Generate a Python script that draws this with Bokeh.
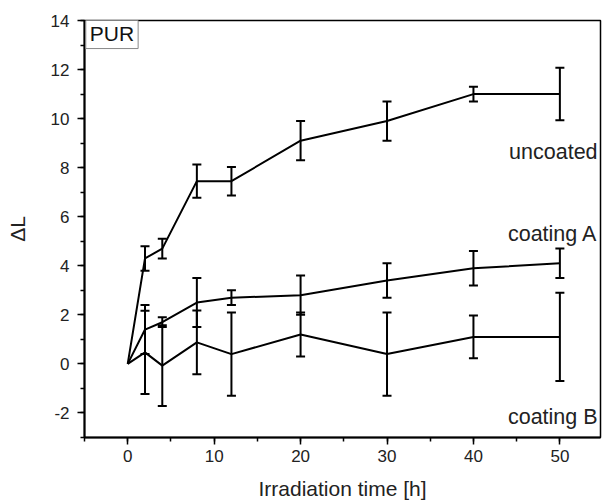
from bokeh.plotting import figure
from bokeh.models import (ColumnDataSource, Whisker, TeeHead, Label, Range1d,
                          SingleIntervalTicker, CustomJSTickFormatter)
from bokeh.embed import file_html
from bokeh.resources import INLINE

# ---- data ----
times = [0, 2, 4, 8, 12, 20, 30, 40, 50]
uncoated = [0, 4.3, 4.7, 7.45, 7.45, 9.1, 9.9, 11.0, 11.0]
uncoated_err = [0, 0.5, 0.4, 0.68, 0.58, 0.8, 0.8, 0.3, 1.07]
coating_a = [0, 1.4, 1.7, 2.5, 2.7, 2.8, 3.4, 3.9, 4.1]
coating_a_err = [0, 1.0, 0.2, 1.0, 0.3, 0.8, 0.7, 0.7, 0.6]
coating_b = [0, 0.47, -0.07, 0.88, 0.4, 1.2, 0.4, 1.1, 1.1]
coating_b_err = [0, 1.7, 1.65, 1.3, 1.7, 0.9, 1.7, 0.87, 1.8]
series_names = ["uncoated", "coating A", "coating B"]

FONT = "Liberation Sans"

p = figure(width=602, height=502, output_backend="svg", toolbar_location=None,
           x_range=Range1d(-5, 54.7), y_range=Range1d(-3, 14),
           min_border_left=84, min_border_right=2, min_border_top=20,
           min_border_bottom=65)
p.xgrid.visible = False
p.ygrid.visible = False
p.outline_line_color = "black"
p.outline_line_width = 1.5
p.background_fill_color = "white"
p.border_fill_color = "white"

for ys, errs in [(uncoated, uncoated_err), (coating_a, coating_a_err),
                 (coating_b, coating_b_err)]:
    p.line(times, ys, line_color="black", line_width=2)
    bx = [t for t, e in zip(times, errs) if e > 0]
    up = [y + e for y, e in zip(ys, errs) if e > 0]
    lo = [y - e for y, e in zip(ys, errs) if e > 0]
    src = ColumnDataSource(dict(base=bx, upper=up, lower=lo))
    w = Whisker(source=src, base="base", upper="upper", lower="lower",
                line_color="black", line_width=2,
                upper_head=TeeHead(size=9, line_width=2, line_color="black"),
                lower_head=TeeHead(size=9, line_width=2, line_color="black"))
    p.add_layout(w)

# axes
p.xaxis.ticker = SingleIntervalTicker(interval=10, num_minor_ticks=2)
p.yaxis.ticker = SingleIntervalTicker(interval=2, num_minor_ticks=2)
fmt = CustomJSTickFormatter(code="return String(tick);")
for ax in (p.xaxis[0], p.yaxis[0]):
    ax.formatter = fmt
    ax.axis_line_width = 2
    ax.axis_line_color = "black"
    ax.major_tick_line_width = 1.5
    ax.minor_tick_line_width = 1.5
    ax.major_tick_in = 0
    ax.major_tick_out = 7
    ax.minor_tick_in = 0
    ax.minor_tick_out = 4
    ax.major_label_text_font = FONT
    ax.major_label_text_font_size = "17px"
    ax.major_label_text_color = "#222222"
    ax.axis_label_text_font = FONT
    ax.axis_label_text_font_style = "normal"
    ax.axis_label_text_font_size = "21px"
    ax.axis_label_text_color = "#222222"

p.xaxis.axis_label = "Irradiation time [h]"
p.xaxis.major_label_standoff = 5
p.xaxis.axis_label_standoff = 12
p.yaxis.axis_label = "ΔL"
p.yaxis.major_label_standoff = 8
p.yaxis.axis_label_standoff = 19

# series labels
for txt, yv in zip(series_names, [8.64, 5.31, -2.18]):
    p.add_layout(Label(x=54.36, y=yv, text=txt, text_align="right",
                       text_baseline="alphabetic", text_font=FONT,
                       text_font_size="21.5px", text_color="#222222"))

p.add_layout(Label(x=-4.85, y=14.12, text="PUR", text_align="left",
                   text_baseline="top", text_font=FONT, text_font_size="21px",
                   text_color="#111111", padding=4,
                   border_line_color="#888888", border_line_width=1,
                   background_fill_color="white"))

open("out.html", "w").write(file_html(p, INLINE))
